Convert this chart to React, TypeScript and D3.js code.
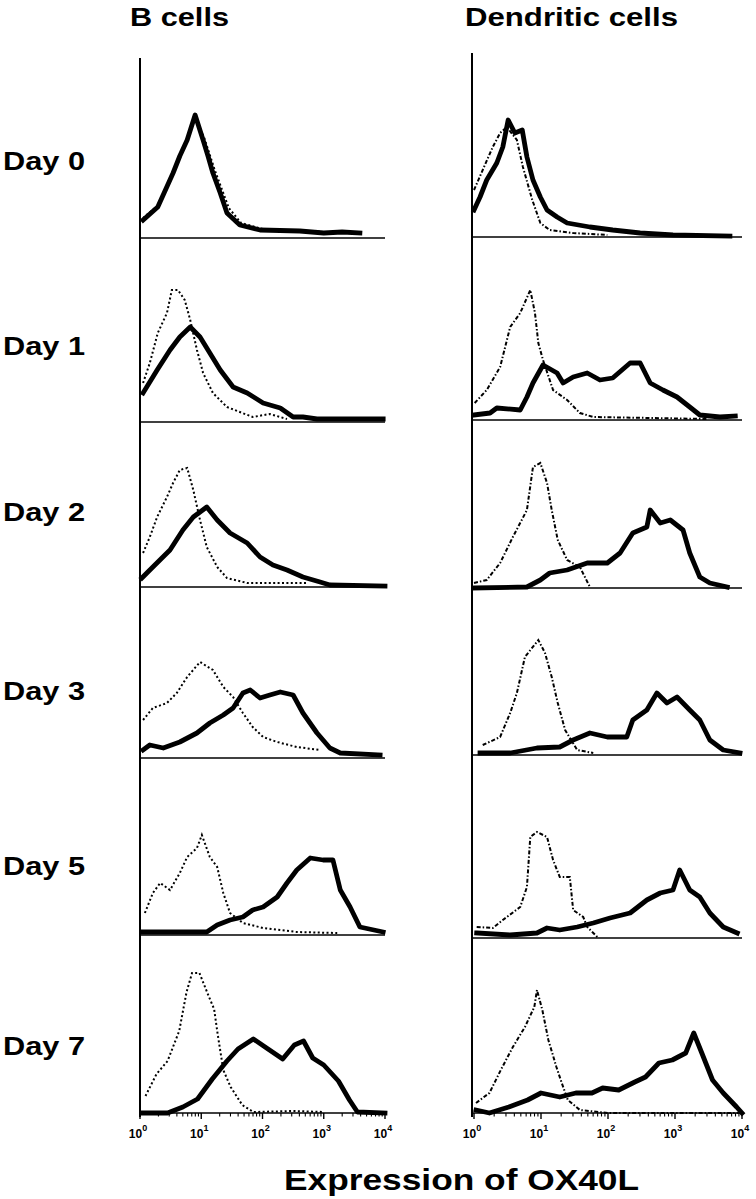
import React from "react";
import * as d3 from "d3";

// ---------- DATA ----------
const days = ["Day 0", "Day 1", "Day 2", "Day 3", "Day 5", "Day 7"];
const columnTitles = ["B cells", "Dendritic cells"];
const xTitle = "Expression of OX40L";
const tickExponents = [0, 1, 2, 3, 4];

// each point: [log10 fluorescence (decades), relative cell count]
// B cells – OX40L (solid) and control (dotted)
const bDay0Ox = [[0.05,18],[0.29,31],[0.54,65],[0.65,82],[0.77,98],[0.9,123],[1.03,98],[1.11,82],[1.19,65],[1.31,45],[1.42,25],[1.63,13],[1.96,8],[2.61,7],[3.0,5],[3.3,6],[3.59,5]];
const bDay0Ctrl = [[0.05,20],[0.3,33],[0.55,66],[0.78,100],[0.9,120],[1.05,100],[1.22,68],[1.45,30],[1.65,15],[2.0,9],[2.6,7],[3.4,5]];
const bDay1Ox = [[0.05,29],[0.28,52],[0.49,72],[0.65,85],[0.82,95],[0.98,85],[1.14,69],[1.31,52],[1.52,35],[1.75,29],[2.01,19],[2.29,14],[2.5,5],[2.66,5],[2.89,3],[3.97,3]];
const bDay1Ctrl = [[0.05,39],[0.16,59],[0.29,89],[0.44,109],[0.52,132],[0.62,132],[0.73,122],[0.82,102],[0.93,72],[1.03,49],[1.19,29],[1.42,15],[1.63,10],[1.84,5],[2.12,8],[2.4,3]];
const bDay2Ox = [[0.03,9],[0.21,20],[0.49,37],[0.7,57],[0.87,70],[1.09,80],[1.26,67],[1.47,54],[1.75,44],[1.96,30],[2.17,22],[2.4,17],[2.66,10],[2.94,5],[3.1,2],[4.0,1]];
const bDay2Ctrl = [[0.05,34],[0.16,50],[0.28,70],[0.44,90],[0.54,104],[0.65,117],[0.77,119],[0.87,97],[0.98,67],[1.09,40],[1.26,20],[1.42,9],[1.75,4],[2.29,4],[2.73,4]];
const bDay3Ox = [[0.05,8],[0.16,13],[0.38,10],[0.65,16],[0.93,25],[1.14,35],[1.36,43],[1.52,50],[1.68,65],[1.8,68],[1.96,60],[2.12,63],[2.29,66],[2.5,63],[2.66,45],[2.89,25],[3.1,10],[3.27,5],[3.92,3]];
const bDay3Ctrl = [[0.05,38],[0.21,50],[0.44,55],[0.6,65],[0.77,81],[0.98,96],[1.19,88],[1.36,71],[1.52,61],[1.68,45],[1.84,31],[2.01,21],[2.24,16],[2.56,11],[2.94,8]];
const bDay5Ox = [[0.05,3],[0.65,3],[1.09,3],[1.26,10],[1.47,15],[1.68,18],[1.84,25],[2.01,28],[2.24,38],[2.4,52],[2.56,65],[2.78,77],[2.99,75],[3.15,75],[3.27,45],[3.43,28],[3.59,8],[3.97,3]];
const bDay5Ctrl = [[0.08,22],[0.21,42],[0.33,52],[0.49,45],[0.65,62],[0.77,78],[0.93,87],[1.01,100],[1.14,78],[1.26,68],[1.36,42],[1.47,22],[1.68,12],[2.01,7],[2.56,3],[3.22,2]];
const bDay7Ox = [[0.03,0],[0.45,0],[0.7,6],[0.94,14],[1.18,34],[1.42,52],[1.6,64],[1.85,74],[2.09,64],[2.33,54],[2.52,68],[2.67,72],[2.82,55],[3.0,48],[3.24,32],[3.42,13],[3.55,1],[4.0,0]];
const bDay7Ctrl = [[0.09,17],[0.27,39],[0.45,52],[0.64,82],[0.76,121],[0.85,140],[0.97,140],[1.12,117],[1.21,104],[1.27,78],[1.36,43],[1.48,26],[1.67,8],[1.85,1],[2.5,2],[3.0,1]];

// Dendritic cells – OX40L (solid) and control (dash-dot)
const dcDay0Ox = [[0,27],[0.09,40],[0.19,57],[0.34,74],[0.43,90],[0.51,117],[0.61,104],[0.72,107],[0.79,80],[0.88,57],[0.99,40],[1.09,27],[1.24,20],[1.39,14],[1.73,10],[2.07,7],[2.48,4],[2.97,2],[3.82,1]];
const dcDay0Ctrl = [[0,47],[0.13,67],[0.28,90],[0.39,104],[0.49,110],[0.64,97],[0.73,70],[0.87,37],[0.99,14],[1.13,7],[1.48,4],[1.99,2]];
const dcDay1Ox = [[0,5],[0.24,7],[0.34,12],[0.69,10],[0.79,23],[0.88,37],[1.03,55],[1.24,47],[1.33,37],[1.48,43],[1.69,47],[1.88,40],[2.07,42],[2.33,57],[2.48,57],[2.63,37],[2.82,30],[3.03,23],[3.22,13],[3.37,5],[3.67,3],[3.9,4]];
const dcDay1Ctrl = [[0.01,17],[0.19,30],[0.39,53],[0.54,93],[0.69,107],[0.84,130],[0.91,107],[0.96,77],[1.03,60],[1.18,30],[1.39,20],[1.58,7],[1.78,3],[3.5,1]];
const dcDay2Ox = [[0,0],[0.79,1],[0.99,8],[1.13,15],[1.39,18],[1.69,25],[1.99,25],[2.18,35],[2.37,55],[2.58,61],[2.63,78],[2.78,65],[2.93,68],[3.12,58],[3.22,35],[3.37,11],[3.52,5],[3.78,1]];
const dcDay2Ctrl = [[0,5],[0.19,8],[0.39,25],[0.58,51],[0.79,78],[0.88,121],[0.99,125],[1.09,105],[1.16,78],[1.25,48],[1.39,28],[1.58,21],[1.73,1]];
const dcDay3Ox = [[0.09,2],[0.54,2],[0.94,7],[1.28,8],[1.48,15],[1.73,22],[1.99,18],[2.28,18],[2.37,35],[2.58,45],[2.73,62],[2.88,52],[3.03,58],[3.22,45],[3.37,35],[3.52,15],[3.72,5],[3.97,2]];
const dcDay3Ctrl = [[0.13,10],[0.39,18],[0.54,42],[0.64,62],[0.76,98],[0.96,115],[1.06,102],[1.16,78],[1.25,52],[1.36,25],[1.54,5],[1.78,2]];
const dcDay5Ox = [[0.04,5],[0.54,3],[0.94,5],[1.09,10],[1.28,8],[1.54,11],[1.78,15],[2.03,20],[2.33,25],[2.58,38],[2.78,45],[2.97,48],[3.07,68],[3.22,48],[3.37,41],[3.52,25],[3.72,11],[3.93,5]];
const dcDay5Ctrl = [[0.04,11],[0.28,10],[0.43,18],[0.69,31],[0.79,51],[0.84,101],[0.94,106],[1.09,101],[1.18,78],[1.28,61],[1.43,61],[1.48,28],[1.63,21],[1.69,11],[1.84,1]];
const dcDay7Ox = [[0.03,3],[0.23,0],[0.52,6],[0.8,13],[1.0,20],[1.28,16],[1.52,20],[1.76,20],[1.92,25],[2.16,23],[2.4,31],[2.56,36],[2.76,50],[2.96,53],[3.16,60],[3.28,80],[3.4,60],[3.56,33],[3.72,20],[3.92,6],[4.0,0]];
const dcDay7Ctrl = [[0.03,10],[0.23,20],[0.4,43],[0.58,66],[0.76,86],[0.9,106],[0.94,123],[1.02,103],[1.11,73],[1.23,46],[1.31,30],[1.4,13],[1.58,3],[2.0,0],[4.0,0]];

const bOx = [bDay0Ox, bDay1Ox, bDay2Ox, bDay3Ox, bDay5Ox, bDay7Ox];
const bCtrl = [bDay0Ctrl, bDay1Ctrl, bDay2Ctrl, bDay3Ctrl, bDay5Ctrl, bDay7Ctrl];
const dcOx = [dcDay0Ox, dcDay1Ox, dcDay2Ox, dcDay3Ox, dcDay5Ox, dcDay7Ox];
const dcCtrl = [dcDay0Ctrl, dcDay1Ctrl, dcDay2Ctrl, dcDay3Ctrl, dcDay5Ctrl, dcDay7Ctrl];

// ---------- LAYOUT ----------
const W = 756;
const H = 1199;
const FONT = "'Liberation Sans', Arial, Helvetica, sans-serif";
const columns = [
  { x0: 140, x1: 385, axisX: 140, axisTop: 58, baselines: [238, 422, 587, 758, 935, 1113], ox: bOx, ctrl: bCtrl, dash: "2 2.4", titleX: 130, titleW: 99 },
  { x0: 474, x1: 742, axisX: 472, axisTop: 53, baselines: [237, 420, 588, 755, 938, 1113], ox: dcOx, ctrl: dcCtrl, dash: "4 2 1.5 2", titleX: 465, titleW: 213 },
];
const dayLabelY = [170, 355, 521, 700, 875, 1055];
const PANEL_H = 180;

function Column({ col }: { col: any }) {
  const x = d3.scaleLinear().domain([0, 4]).range([col.x0, col.x1]);
  const last = col.baselines[col.baselines.length - 1];
  const minor: number[] = [];
  for (let dec = 0; dec < 4; dec++) for (let k = 2; k <= 9; k++) minor.push(dec + Math.log10(k));
  return (
    <g>
      <line x1={col.axisX} x2={col.axisX} y1={col.axisTop} y2={last + 4} stroke="#000" strokeWidth={2} />
      {col.baselines.map((b: number, i: number) => {
        const y = d3.scaleLinear().domain([0, PANEL_H]).range([b, b - PANEL_H]);
        const line = d3.line<number[]>().x((d) => x(d[0])).y((d) => y(d[1])).curve(d3.curveLinear);
        return (
          <g key={i}>
            <line x1={col.axisX} x2={col.x1} y1={b} y2={b} stroke="#000" strokeWidth={1.6} />
            <path d={line(col.ctrl[i]) || ""} fill="none" stroke="#000" strokeWidth={2} strokeDasharray={col.dash} />
            <path d={line(col.ox[i]) || ""} fill="none" stroke="#000" strokeWidth={4.8} strokeLinejoin="round" strokeLinecap="square" />
          </g>
        );
      })}
      {tickExponents.map((e) => (
        <g key={"M" + e}>
          <line x1={x(e)} x2={x(e)} y1={last} y2={last + 6} stroke="#000" strokeWidth={1.4} />
          <text x={x(e) - 2} y={last + 25} textAnchor="middle" fontFamily={FONT} fontSize={12} fontWeight="bold">
            10
            <tspan fontSize={9} dy={-7}>{e}</tspan>
          </text>
        </g>
      ))}
      {minor.map((m, i) => (
        <line key={"m" + i} x1={x(m)} x2={x(m)} y1={last} y2={last + 3.5} stroke="#000" strokeWidth={1.1} />
      ))}
    </g>
  );
}

export default function App() {
  return (
    <svg width={W} height={H} style={{ position: "absolute", left: 0, top: 0, background: "#fff" }}>
      <rect width={W} height={H} fill="#fff" />
      {columns.map((c, i) => (
        <text key={i} x={c.titleX} y={26} fontFamily={FONT} fontWeight="bold" fontSize={26}
          textLength={c.titleW} lengthAdjust="spacingAndGlyphs">{columnTitles[i]}</text>
      ))}
      {days.map((d, i) => (
        <text key={d} x={3} y={dayLabelY[i]} fontFamily={FONT} fontWeight="bold" fontSize={25}
          textLength={82} lengthAdjust="spacingAndGlyphs">{d}</text>
      ))}
      {columns.map((c, i) => <Column key={i} col={c} />)}
      <text x={284} y={1190} fontFamily={FONT} fontWeight="bold" fontSize={30}
        textLength={355} lengthAdjust="spacingAndGlyphs">{xTitle}</text>
    </svg>
  );
}
